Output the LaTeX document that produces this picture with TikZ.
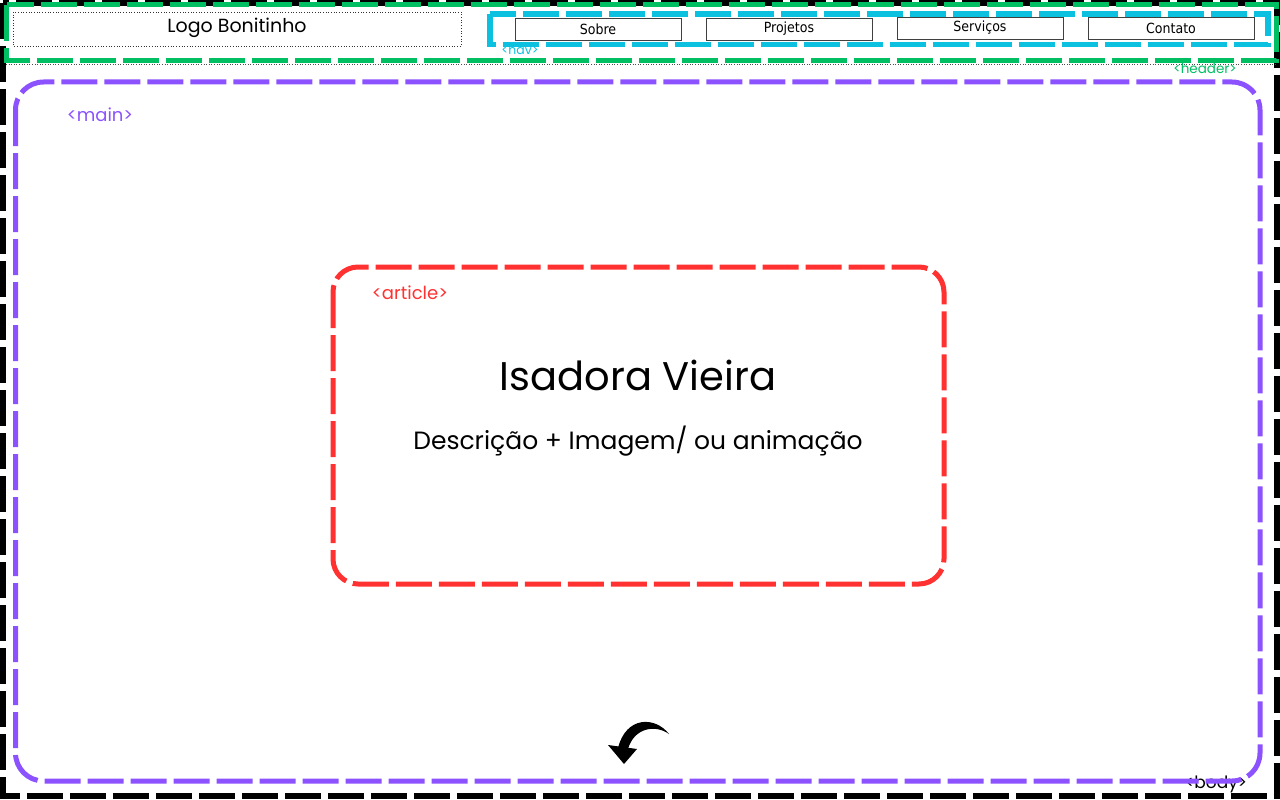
\documentclass[tikz,border=0pt]{standalone}
\usepackage{fontspec}
\setmainfont{Poppins}
\newfontfamily\btnfont{DejaVu Sans Condensed}
\usetikzlibrary{calc,arrows.meta}
\definecolor{wf-body}{HTML}{000000}
\definecolor{wf-header}{HTML}{00BF63}
\definecolor{wf-nav}{HTML}{0CC0DF}
\definecolor{wf-main}{HTML}{8C52FF}
\definecolor{wf-article}{HTML}{FF3131}
\tikzset{
  wfbox/.style={line width=5pt, dash pattern=on 36pt off 7pt},
  wftag/.style={inner sep=0pt, font=\fontsize{18}{18}\selectfont},
  navbtn/.style={draw=black!75, line width=0.8pt, minimum width=166pt, minimum height=22pt, inner sep=0pt, font=\btnfont\fontsize{14}{14}\selectfont},
}

\begin{document}
\begin{tikzpicture}[x=1pt, y=-1pt]
    \useasboundingbox (0,0) rectangle (1280,800);
    % body
    \node[wftag, anchor=base, font=\fontsize{17}{17}\selectfont] (bodytag) at (1216,788) {<body>};
    \draw[wfbox, wf-body, line width=6pt] (3,3) rectangle (1277,796);
    % header
    \draw[wfbox, wf-header] (6.5,5) rectangle (1276,60.5);
    \draw[black!70, dotted, line width=0.6pt] (6,64) -- (1276,64);
    \node[wftag, anchor=base, wf-header, font=\fontsize{13.5}{13.5}\selectfont] (headertag) at (1205,74) {<header>};
    \draw[black!80, dotted, line width=0.7pt] (13,12) rectangle (461,46);
    \node[font=\fontsize{19}{19}\selectfont] (logo) at (237,28) {Logo Bonitinho};
    % nav
    \draw[wfbox, wf-nav, line width=5.5pt] (490,14) rectangle (1268,44.5);
    \node[wftag, anchor=base, wf-nav, font=\fontsize{12.5}{12.5}\selectfont] (navtag) at (520,55) {<nav>};
    \node[navbtn] (sobre) at (598,29) {Sobre};
    \node[navbtn] (projetos) at (789,29) {Projetos};
    \node[navbtn] (servicos) at (980,28) {Serviços};
    \node[navbtn] (contato) at (1171,28) {Contato};
    % main
    \draw[wfbox, wf-main, rounded corners=28pt] (15.5,82) rectangle (1260,781);
    \node[wftag, wf-main] (maintag) at (100,115) {<main>};
    % article
    \draw[wfbox, wf-article, rounded corners=25pt] (333,267) rectangle (944,584);
    \node[wftag, wf-article] (articletag) at (410,293) {<article>};
    \node[font=\fontsize{40}{40}\selectfont] (nome) at (638,375) {Isadora Vieira};
    \node[font=\fontsize{25}{25}\selectfont] (descricao) at (638,441) {Descrição + Imagem/ ou animação};
    % seta
    \coordinate (s0) at (669,734);
    \coordinate (s1) at (618,748);
    \coordinate (s2) at (628,749);
    \coordinate (tip) at (624,764);
    \fill[black] (s0) .. controls (655,716) and (626,716) .. (s1)
        -- (s2) .. controls (634,728) and (655,724) .. (s0) -- cycle;
    \fill[black] (608,745) -- (637,749) -- (tip) -- cycle;
\end{tikzpicture}
\end{document}
